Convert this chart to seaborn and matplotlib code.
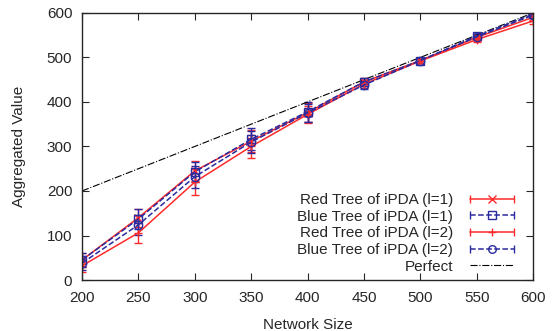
import numpy as np
import matplotlib
matplotlib.use("Agg")
import matplotlib.pyplot as plt
from matplotlib.lines import Line2D
from matplotlib.legend_handler import HandlerLine2D
import seaborn as sns

# Data
sizes = [200, 250, 300, 350, 400, 450, 500, 550, 600]
red_l1 = [45, 140, 245, 312, 376, 445, 493, 545, 590]
red_l1_err = [15, 20, 22, 25, 22, 9, 5, 5, 8]
blue_l1 = [45, 137, 243, 316, 378, 445, 493, 548, 597]
blue_l1_err = [15, 22, 22, 25, 22, 9, 5, 5, 5]
red_l2 = [32, 106, 220, 300, 372, 440, 492, 540, 582]
red_l2_err = [15, 22, 30, 25, 20, 9, 5, 5, 8]
blue_l2 = [38, 124, 232, 310, 375, 438, 493, 546, 595]
blue_l2_err = [15, 22, 25, 25, 20, 9, 5, 5, 5]
perfect = [200, 600]

labels = ["Red Tree of iPDA (l=1)", "Blue Tree of iPDA (l=1)",
          "Red Tree of iPDA (l=2)", "Blue Tree of iPDA (l=2)", "Perfect"]

sns.set_style("ticks")
plt.rcParams['font.family'] = ['Liberation Sans', 'DejaVu Sans']

fig = plt.figure(figsize=(5.59, 3.31), dpi=100)
ax = fig.add_axes([0.1467, 0.154, 0.8068, 0.807])

red = "#ff2a2a"
blue = "#2b2ba0"
common = dict(capsize=3, elinewidth=1, linewidth=1.1, markersize=6, markerfacecolor="none")

series = [
    (red_l1, red_l1_err, red, "x", "-"),
    (blue_l1, blue_l1_err, blue, "s", "--"),
    (red_l2, red_l2_err, red, "+", "-"),
    (blue_l2, blue_l2_err, blue, "o", "--"),
]
for vals, err, col, mk, ls in series:
    ax.errorbar(sizes, vals, yerr=err, color=col, marker=mk, ls=ls, **common)

sns.lineplot(x=perfect, y=perfect, ax=ax, color="black", linestyle="-.", linewidth=0.8)

ax.set_xlim(200, 600)
ax.set_ylim(0, 600)
ax.set_xticks(range(200, 601, 50))
ax.set_yticks(range(0, 601, 100))
ax.tick_params(direction="in", top=True, right=True, labelsize=11, length=5)
ax.tick_params(axis="y", pad=7)
ax.tick_params(axis="x", pad=8)
for s in ax.spines.values():
    s.set_linewidth(1)
ax.set_xlabel("Network Size", fontsize=11, labelpad=9)
ax.set_ylabel("Aggregated Value", fontsize=11, labelpad=15)

# gnuplot-like legend keys: line with centre marker plus end caps
handles = []
hmap = {}
for vals, err, col, mk, ls in series:
    main = Line2D([], [], color=col, ls=ls, lw=1.1, marker=mk, markersize=5.5,
                  markerfacecolor="none")
    caps = Line2D([], [], color=col, ls="none", marker="|", markersize=6)
    hmap[caps] = HandlerLine2D(numpoints=2, marker_pad=0)
    handles.append((main, caps))
handles.append(Line2D([], [], color="black", ls="-.", lw=0.8))

ax.legend(handles, labels, handler_map=hmap, loc="lower right",
          bbox_to_anchor=(0.958, 0.024), frameon=False,
          markerfirst=False, fontsize=11, handlelength=2.9, labelspacing=0.17,
          borderaxespad=0, borderpad=0, handletextpad=1.1)

fig.savefig("out.png", dpi=100)
